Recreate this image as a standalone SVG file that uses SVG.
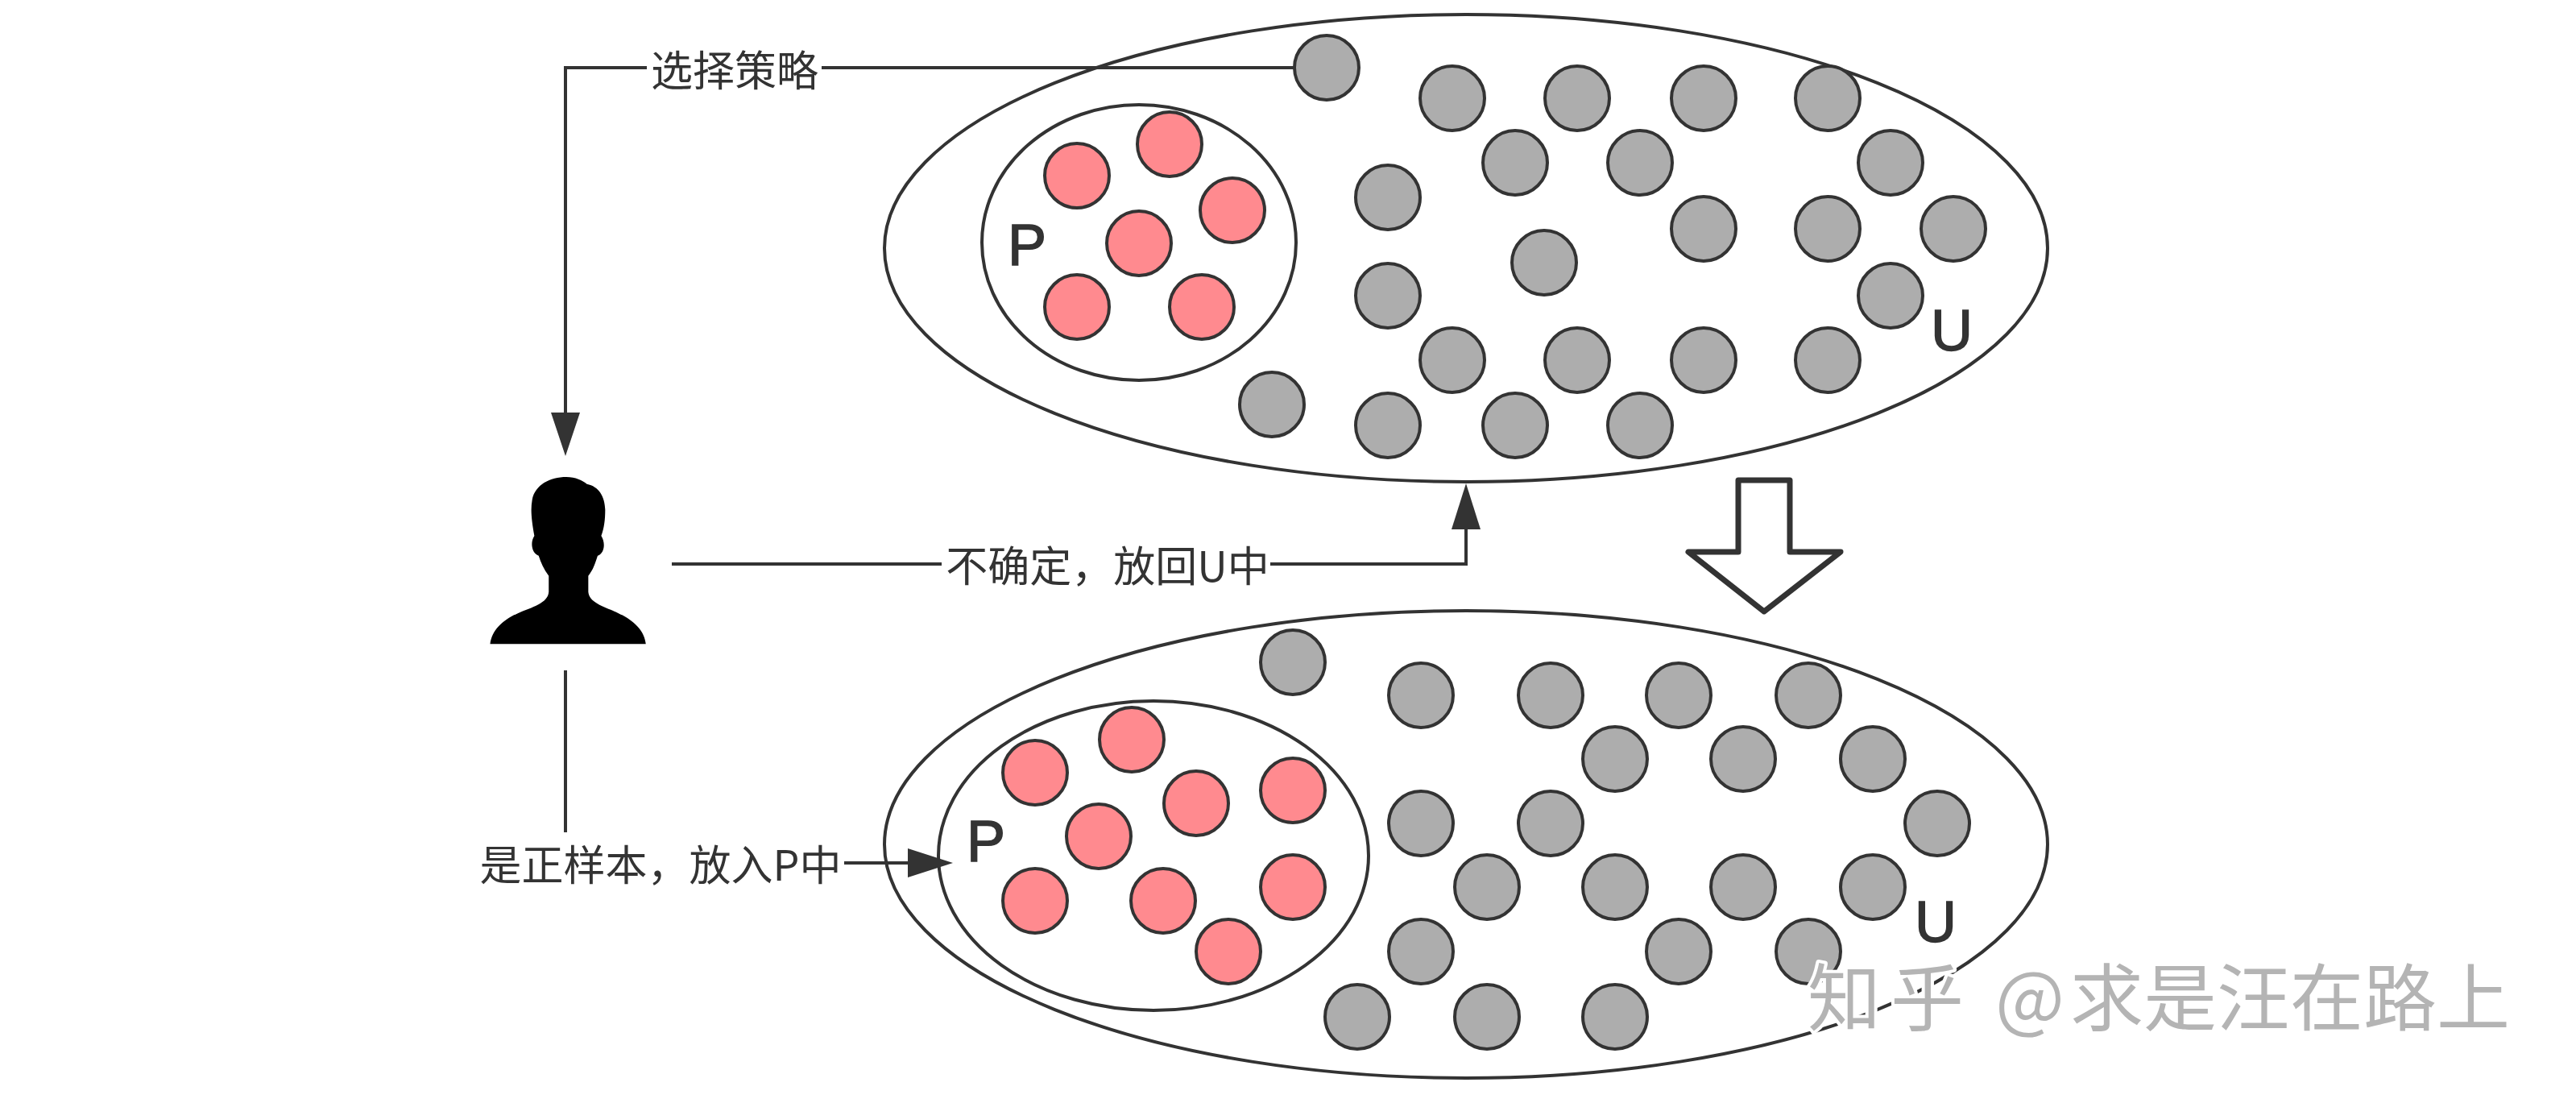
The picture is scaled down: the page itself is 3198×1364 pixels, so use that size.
<svg xmlns="http://www.w3.org/2000/svg" width="3198" height="1364" viewBox="0 0 3198 1364">
<style>
.set{fill:none;stroke:#333;stroke-width:4}
.g{fill:#adadad;stroke:#333;stroke-width:4}
.r{fill:#ff8a8f;stroke:#333;stroke-width:4}
.lbl{font-family:"Noto Sans CJK SC","Noto Sans",sans-serif;font-size:52px;fill:#333;text-anchor:middle;dominant-baseline:central}
.big{font-family:"Liberation Sans",Arial,sans-serif;font-size:72px;fill:#333;stroke:#333;stroke-width:1.5;text-anchor:middle;dominant-baseline:central}
.line{fill:none;stroke:#333;stroke-width:4}
.wm{font-family:"Noto Sans CJK SC",sans-serif;font-size:91px;fill:#b4b4b4;stroke:#fff;stroke-width:8px;paint-order:stroke;stroke-linejoin:round}
</style>
<defs>
<circle id="c" r="40"/>
</defs>
<rect width="3198" height="1364" fill="#fff"/>
<g id="set-top">
<ellipse class="set" cx="1820" cy="308" rx="722" ry="290"/>
<ellipse class="set" cx="1414" cy="301" rx="195" ry="171"/>
<text class="big" x="1275" y="304">P</text>
<text class="big" x="2423" y="410">U</text>
<g class="g">
<use href="#c" x="1647" y="84"/><use href="#c" x="1803" y="122"/><use href="#c" x="1958" y="122"/><use href="#c" x="2115" y="122"/><use href="#c" x="2269" y="122"/>
<use href="#c" x="1881" y="202"/><use href="#c" x="2036" y="202"/><use href="#c" x="2347" y="202"/><use href="#c" x="1723" y="245"/>
<use href="#c" x="2115" y="284"/><use href="#c" x="2269" y="284"/><use href="#c" x="2425" y="284"/><use href="#c" x="1917" y="326"/>
<use href="#c" x="1723" y="367"/><use href="#c" x="2347" y="367"/><use href="#c" x="1803" y="447"/><use href="#c" x="1958" y="447"/><use href="#c" x="2115" y="447"/><use href="#c" x="2269" y="447"/>
<use href="#c" x="1579" y="502"/><use href="#c" x="1723" y="528"/><use href="#c" x="1881" y="528"/><use href="#c" x="2036" y="528"/>
</g>
<g class="r">
<use href="#c" x="1452" y="179"/><use href="#c" x="1337" y="218"/><use href="#c" x="1530" y="261"/><use href="#c" x="1414" y="302"/><use href="#c" x="1337" y="381"/><use href="#c" x="1492" y="381"/>
</g>
</g>
<g id="set-bottom">
<ellipse class="set" cx="1820" cy="1048" rx="722" ry="290"/>
<ellipse class="set" cx="1432" cy="1062" rx="267" ry="192"/>
<text class="big" x="1224" y="1044">P</text>
<text class="big" x="2403" y="1144">U</text>
<g class="g">
<use href="#c" x="1605" y="822"/><use href="#c" x="1764" y="863"/><use href="#c" x="1925" y="863"/><use href="#c" x="2084" y="863"/><use href="#c" x="2245" y="863"/>
<use href="#c" x="2005" y="942"/><use href="#c" x="2164" y="942"/><use href="#c" x="2325" y="942"/><use href="#c" x="1764" y="1022"/><use href="#c" x="1925" y="1022"/><use href="#c" x="2405" y="1022"/>
<use href="#c" x="1846" y="1101"/><use href="#c" x="2005" y="1101"/><use href="#c" x="2164" y="1101"/><use href="#c" x="2325" y="1101"/>
<use href="#c" x="1764" y="1181"/><use href="#c" x="2084" y="1181"/><use href="#c" x="2245" y="1181"/><use href="#c" x="1685" y="1262"/><use href="#c" x="1846" y="1262"/><use href="#c" x="2005" y="1262"/>
</g>
<g class="r">
<use href="#c" x="1405" y="918"/><use href="#c" x="1285" y="959"/><use href="#c" x="1605" y="981"/><use href="#c" x="1485" y="997"/><use href="#c" x="1364" y="1038"/><use href="#c" x="1285" y="1118"/><use href="#c" x="1444" y="1118"/><use href="#c" x="1605" y="1101"/><use href="#c" x="1525" y="1181"/>
</g>
</g>
<g id="user">
<path transform="translate(500,500) scale(.4464,.4145)" fill="#000" d="M243 722C248 680 278 650 320 630C360 612 404 600 406 566L406 518C392 498 384 478 378 458C358 450 354 418 366 398C358 350 355 320 360 290C368 245 410 222 455 222C480 222 500 232 512 243C545 250 562 280 563 320C563 350 560 375 552 398C564 418 562 450 542 458C535 480 530 500 516 518L516 566C518 600 565 612 600 630C640 650 672 680 676 722Z"/>
</g>
<g id="connectors">
<path class="line" d="M1607 84H1020M803 84H702V515"/>
<path d="M702 566L684 512H720Z" fill="#333"/>
<path class="line" d="M834 700H1169M1577 700H1820V655"/>
<path d="M1820 600L1802 657H1838Z" fill="#333"/>
<path class="line" d="M702 832V1033"/>
<path class="line" d="M1048 1071H1130"/>
<path d="M1183 1071L1127 1053V1089Z" fill="#333"/>
</g>
<g id="labels">
<text class="lbl" x="912" y="84">选择策略</text>
<text class="lbl" x="1375" y="699">不确定，放回U中</text>
<text class="lbl" x="820" y="1070">是正样本，放入P中</text>
</g>
<g id="transition">
<path d="M2158 596H2222V685H2285L2190 759L2096 685H2158Z" fill="#fff" stroke="#333" stroke-width="7" stroke-linejoin="round"/>
</g>
<g id="watermark">
<text class="wm" x="2244" y="1272" letter-spacing="12">知乎</text>
<text class="wm" x="2477" y="1272">@</text>
<text class="wm" x="2570" y="1272">求是汪在路上</text>
</g>
</svg>
